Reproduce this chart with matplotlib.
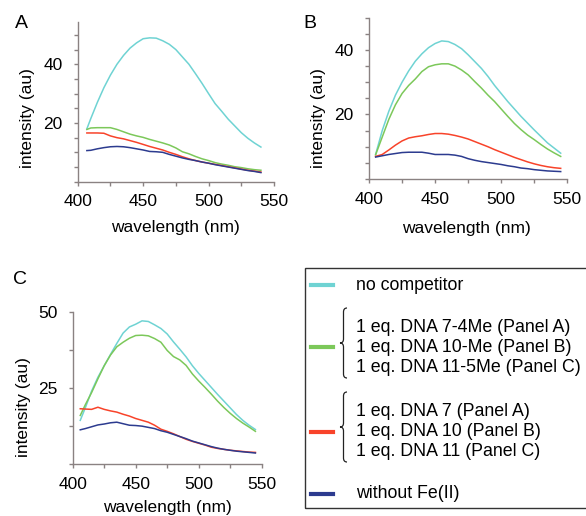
import numpy as np
import matplotlib
matplotlib.use("Agg")
import matplotlib.pyplot as plt
from matplotlib.path import Path
from matplotlib.patches import PathPatch, Rectangle

plt.rcParams['font.family'] = ['Liberation Sans', 'DejaVu Sans']

W, H = 586, 516

# --- data ---
wl_a = [407, 410, 415, 420, 425, 430, 435, 440, 445, 450, 455, 460, 465, 470,
        475, 480, 485, 490, 495, 500, 505, 510, 515, 520, 525, 530, 535, 540]
a_none = [18, 21.5, 27, 32, 36.3, 40, 43, 45.5, 47.3, 48.7, 49, 48.9, 48, 46.8,
          45, 42.5, 40, 36.8, 33.5, 30, 26.6, 24, 21.3, 19, 16.7, 14.8, 13.2, 11.8]
a_me = [17.8, 18.3, 18.4, 18.4, 18.4, 17.8, 17, 16.2, 15.6, 15.1, 14.4, 13.8, 13.2, 12.5,
        11.5, 10.2, 9.5, 8.6, 7.8, 7.2, 6.5, 6.0, 5.6, 5.1, 4.8, 4.4, 4.1, 3.9]
a_dna = [16.6, 16.6, 16.6, 16.5, 15.6, 15.0, 14.6, 14.0, 13.4, 12.7, 12.0, 11.4, 10.8, 10.0,
         9.3, 8.5, 7.8, 7.2, 6.7, 6.3, 5.9, 5.5, 5.1, 4.7, 4.3, 3.9, 3.6, 3.3]
a_nofe = [10.6, 10.7, 11.2, 11.6, 11.9, 12.0, 11.9, 11.6, 11.2, 10.8, 10.3, 10.2, 10.0, 9.3,
          8.7, 8.1, 7.6, 7.2, 6.7, 6.3, 5.8, 5.4, 5.0, 4.6, 4.2, 3.8, 3.5, 3.1]

wl_b = [405, 410, 415, 420, 425, 430, 435, 440, 445, 450, 455, 460, 465, 470, 475,
        480, 485, 490, 495, 500, 505, 510, 515, 520, 525, 530, 535, 540, 545]
b_none = [7.6, 15, 21, 26, 30, 33.5, 36.5, 38.8, 40.7, 42, 42.8, 42.6, 41.7, 40.4, 38.5,
          36.4, 34.3, 31.8, 29, 26.5, 24, 21.7, 19.4, 17.3, 15.2, 13.2, 11.2, 9.6, 8.0]
b_me = [7.5, 13, 18.5, 23, 26.5, 29, 31, 33.3, 34.8, 35.4, 35.7, 35.7, 35, 33.8, 32.3,
        30.2, 28.2, 26, 24, 21.7, 19.4, 17.2, 15.3, 13.6, 12.2, 10.7, 9.3, 8.1, 7.0]
b_dna = [7.0, 7.6, 9.0, 10.5, 11.8, 12.7, 13.1, 13.4, 13.8, 14.1, 14.1, 13.9, 13.5, 13.0, 12.4,
         11.6, 10.8, 10.0, 9.1, 8.3, 7.5, 6.7, 6.0, 5.3, 4.7, 4.2, 3.8, 3.5, 3.3]
b_nofe = [6.8, 7.2, 7.6, 7.9, 8.2, 8.3, 8.3, 8.3, 8.0, 7.6, 7.6, 7.6, 7.4, 7.0, 6.3,
          5.8, 5.4, 5.1, 4.8, 4.5, 4.1, 3.8, 3.4, 3.2, 2.9, 2.7, 2.5, 2.4, 2.3]

wl_c = [406, 410, 415, 420, 425, 430, 435, 440, 445, 450, 455, 460, 465, 470, 475,
        480, 485, 490, 495, 500, 505, 510, 515, 520, 525, 530, 535, 540, 545]
c_none = [14.4, 18.5, 24, 28.5, 32.3, 36, 39.6, 43, 45, 45.9, 47, 46.8, 45.7, 44.5, 42.7,
          40.1, 37.7, 35.2, 32.3, 29.8, 27.5, 25.2, 22.9, 20.7, 18.5, 16.3, 14.4, 12.8, 11.4]
c_me = [16, 19.5, 23.5, 28, 32.3, 35.8, 38.5, 40, 41.3, 42.2, 42.3, 42.1, 41.2, 40, 37.3,
        35.3, 34.2, 32.4, 29.6, 27.3, 25.2, 23, 20.7, 18.6, 16.7, 15, 13.5, 12.2, 10.8]
c_dna = [18.2, 18.1, 18.0, 18.7, 18.0, 17.5, 17.1, 16.4, 15.8, 15.0, 14.4, 13.8, 12.8, 11.5, 10.8,
         10.0, 9.1, 8.2, 7.5, 6.9, 6.3, 5.6, 5.2, 4.9, 4.6, 4.4, 4.2, 4.0, 3.9]
c_nofe = [11.3, 11.7, 12.3, 12.9, 13.2, 13.6, 13.8, 13.3, 12.8, 12.7, 12.5, 12.1, 11.7, 11.0, 10.5,
          9.8, 9.1, 8.4, 7.6, 7.0, 6.4, 5.8, 5.3, 4.9, 4.6, 4.3, 4.1, 3.9, 3.7]

colors = {"none": "#6fd3d3", "me": "#7cc85a", "dna": "#f8432a", "nofe": "#2c3b8f"}
spine_col = "#8a8282"

legend_labels = ["no competitor",
                 ["1 eq. DNA 7-4Me (Panel A)", "1 eq. DNA 10-Me (Panel B)", "1 eq. DNA 11-5Me (Panel C)"],
                 ["1 eq. DNA 7 (Panel A)", "1 eq. DNA 10 (Panel B)", "1 eq. DNA 11 (Panel C)"],
                 "without Fe(II)"]


def px_rect(left, top, right, bottom):
    return [left / W, 1 - bottom / H, (right - left) / W, (bottom - top) / H]


fig = plt.figure(figsize=(W / 100, H / 100), dpi=100)

panels = [
    ("A", px_rect(77.7, 21.7, 274, 181.7), 54.5, 5, [20, 40], wl_a, [a_none, a_me, a_dna, a_nofe],
     (15, 23), (-0.258, 0.398), (0.5, -0.289)),
    ("B", px_rect(369, 17.7, 567.3, 179), 50, 5, [20, 40], wl_b, [b_none, b_me, b_dna, b_nofe],
     (303, 24), (-0.253, 0.378), (0.489, -0.304)),
    ("C", px_rect(72.7, 311.7, 261.7, 464.3), 50, 12.5, [25, 50], wl_c, [c_none, c_me, c_dna, c_nofe],
     (13, 280), (-0.26, 0.375), (0.5, -0.285)),
]

for letter, rect, ytop, ystep, ylabs, wl, series, lpos, ylc, xlc in panels:
    ax = fig.add_axes(rect)
    for key, vals in zip(["none", "me", "dna", "nofe"], series):
        ax.plot(wl, vals, color=colors[key], lw=1.1)
    ax.set_xlim(400, 550)
    ax.set_ylim(0, ytop)
    ax.set_xticks(np.arange(400, 551, 25))
    ax.set_xticklabels(["400", "", "450", "", "500", "", "550"])
    yt = np.arange(0, ytop + 0.01, ystep)
    ax.set_yticks(yt)
    ax.set_yticklabels([str(int(v)) if v in ylabs else "" for v in yt])
    for s in ["top", "right"]:
        ax.spines[s].set_visible(False)
    for s in ["left", "bottom"]:
        ax.spines[s].set_color(spine_col)
        ax.spines[s].set_linewidth(1.0)
    ax.tick_params(axis="both", direction="out", length=3, width=1, color=spine_col,
                   labelsize=12.5, labelcolor="black")
    ax.tick_params(axis="y", pad=8)
    ax.tick_params(axis="x", pad=6)
    ax.set_ylabel("intensity (au)", fontsize=12.5, va="center")
    ax.yaxis.set_label_coords(*ylc)
    ax.set_xlabel("wavelength (nm)", fontsize=12.5, va="center")
    ax.xaxis.set_label_coords(*xlc)
    fig.text(lpos[0] / W, 1 - lpos[1] / H, letter, fontsize=14, ha="left", va="center")

# --- legend box ---
fig.patches.append(Rectangle((305 / W, 1 - 508 / H), (600 - 305) / W, (508 - 268.3) / H,
                             transform=fig.transFigure, fill=False, ec="#333333", lw=1.0))


def brace(x_tip, x_end, y_top, y_bot):
    ym = (y_top + y_bot) / 2
    xm = (x_tip + x_end) / 2
    k = 4
    verts = [(x_end, y_top), (xm, y_top), (xm, y_top + k),
             (xm, ym - k),
             (xm, ym), (x_tip, ym),
             (xm, ym), (xm, ym + k),
             (xm, y_bot - k),
             (xm, y_bot), (x_end, y_bot)]
    codes = [Path.MOVETO, Path.CURVE3, Path.CURVE3, Path.LINETO,
             Path.CURVE3, Path.CURVE3, Path.CURVE3, Path.CURVE3,
             Path.LINETO, Path.CURVE3, Path.CURVE3]
    verts = [(x / W, 1 - y / H) for x, y in verts]
    fig.patches.append(PathPatch(Path(verts, codes), transform=fig.transFigure,
                                 fill=False, ec="#222222", lw=0.9))


sw_x0, sw_x1, tx = 311, 333, 356
rows = [("none", 285, [285]),
        ("me", 347, [327, 347, 367]),
        ("dna", 432, [411, 431, 451]),
        ("nofe", 494, [494])]
for (key, ysw, ytexts), lab in zip(rows, legend_labels):
    fig.add_artist(plt.Line2D([sw_x0 / W, sw_x1 / W], [1 - ysw / H, 1 - ysw / H],
                              transform=fig.transFigure, color=colors[key], lw=3))
    labs = lab if isinstance(lab, list) else [lab]
    for yt_, t in zip(ytexts, labs):
        fig.text(tx / W, 1 - yt_ / H, t, fontsize=12.8, ha="left", va="center")
    if len(labs) > 1:
        brace(340, 347, ytexts[0] - 19, ytexts[-1] + 11)

fig.savefig("out.png", dpi=100)
